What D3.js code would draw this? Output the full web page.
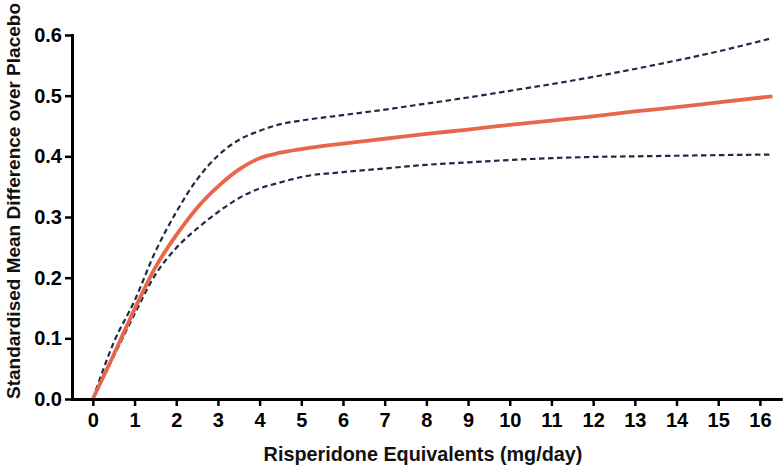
<!DOCTYPE html>
<html>
<head>
<meta charset="utf-8">
<script src="https://cdn.jsdelivr.net/npm/d3@7"></script>
<style>
  html, body { margin: 0; padding: 0; background: #fff; }
  svg { display: block; font-family: "Liberation Sans", Arial, Helvetica, sans-serif; }
</style>
</head>
<body>
<svg id="chart" width="784" height="467"></svg>
<script>
// Dose (risperidone equivalents, mg/day)
const dose  = [0, 0.5, 1, 1.5, 2, 2.5, 3, 3.5, 4, 4.5, 5, 6, 7, 8, 9, 10, 11, 12, 13, 14, 15, 16.3];
// Standardised mean difference (central estimate)
const smd   = [0, 0.073, 0.148, 0.217, 0.270, 0.315, 0.350, 0.378, 0.397, 0.406, 0.412, 0.421, 0.429, 0.437, 0.444, 0.452, 0.459, 0.466, 0.474, 0.481, 0.489, 0.499];
// Upper 95% confidence bound
const upper = [0, 0.093, 0.162, 0.243, 0.308, 0.362, 0.401, 0.427, 0.442, 0.453, 0.459, 0.468, 0.477, 0.487, 0.497, 0.508, 0.519, 0.531, 0.544, 0.558, 0.573, 0.595];
// Lower 95% confidence bound
const lower = [0, 0.070, 0.140, 0.205, 0.249, 0.281, 0.308, 0.331, 0.347, 0.357, 0.366, 0.374, 0.380, 0.386, 0.390, 0.394, 0.397, 0.399, 0.400, 0.401, 0.402, 0.403];
// Tick values
const xTicks = [0, 1, 2, 3, 4, 5, 6, 7, 8, 9, 10, 11, 12, 13, 14, 15, 16];
const yTicks = [0, 0.1, 0.2, 0.3, 0.4, 0.5, 0.6];
const xTitle = "Risperidone Equivalents (mg/day)";
const yTitle = "Standardised Mean Difference over Placebo";

const svg = d3.select("#chart");
const x = d3.scaleLinear().domain([-0.5, 16.5]).range([72, 780.75]);
const y = d3.scaleLinear().domain([0, 0.6]).range([399, 35]);

const pts = arr => dose.map((d, i) => [d, arr[i]]);
const line = d3.line().x(d => x(d[0])).y(d => y(d[1])).curve(d3.curveMonotoneX);

// Confidence bounds
[upper, lower].forEach(arr => {
  svg.append("path")
    .attr("d", line(pts(arr)))
    .attr("fill", "none")
    .attr("stroke", "#1e2a48")
    .attr("stroke-width", 2.2)
    .attr("stroke-dasharray", "5.5,3.5");
});
// Central estimate
svg.append("path")
  .attr("d", line(pts(smd)))
  .attr("fill", "none")
  .attr("stroke", "#e8674a")
  .attr("stroke-width", 3.8)
  .attr("stroke-linejoin", "round");

// Axes
const xAxis = svg.append("g")
  .attr("transform", `translate(0,${y(0)})`)
  .call(d3.axisBottom(x).tickValues(xTicks).tickFormat(d3.format("d")).tickSizeInner(7).tickSizeOuter(0).tickPadding(7));
const yAxis = svg.append("g")
  .attr("transform", `translate(${x(-0.5)},0)`)
  .call(d3.axisLeft(y).tickValues(yTicks).tickFormat(d3.format(".1f")).tickSizeInner(7).tickSizeOuter(0).tickPadding(3));

[xAxis, yAxis].forEach(g => {
  g.select(".domain").attr("stroke", "#000").attr("stroke-width", 3).attr("stroke-linecap", "square");
  g.selectAll(".tick line").attr("stroke", "#000").attr("stroke-width", 2.5);
  g.selectAll(".tick text")
    .attr("fill", "#000")
    .style("font-size", "20px")
    .style("font-weight", "bold")
    .style("font-family", "'Liberation Sans', Arial, sans-serif");
});

// Axis titles
svg.append("text")
  .attr("x", 423).attr("y", 461)
  .attr("text-anchor", "middle")
  .style("font-size", "19.8px").style("font-weight", "bold")
  .attr("fill", "#111")
  .text(xTitle);

svg.append("text")
  .attr("transform", "translate(20,201) rotate(-90)")
  .attr("text-anchor", "middle")
  .style("font-size", "19px").style("font-weight", "bold")
  .attr("fill", "#111")
  .text(yTitle);
</script>
</body>
</html>
